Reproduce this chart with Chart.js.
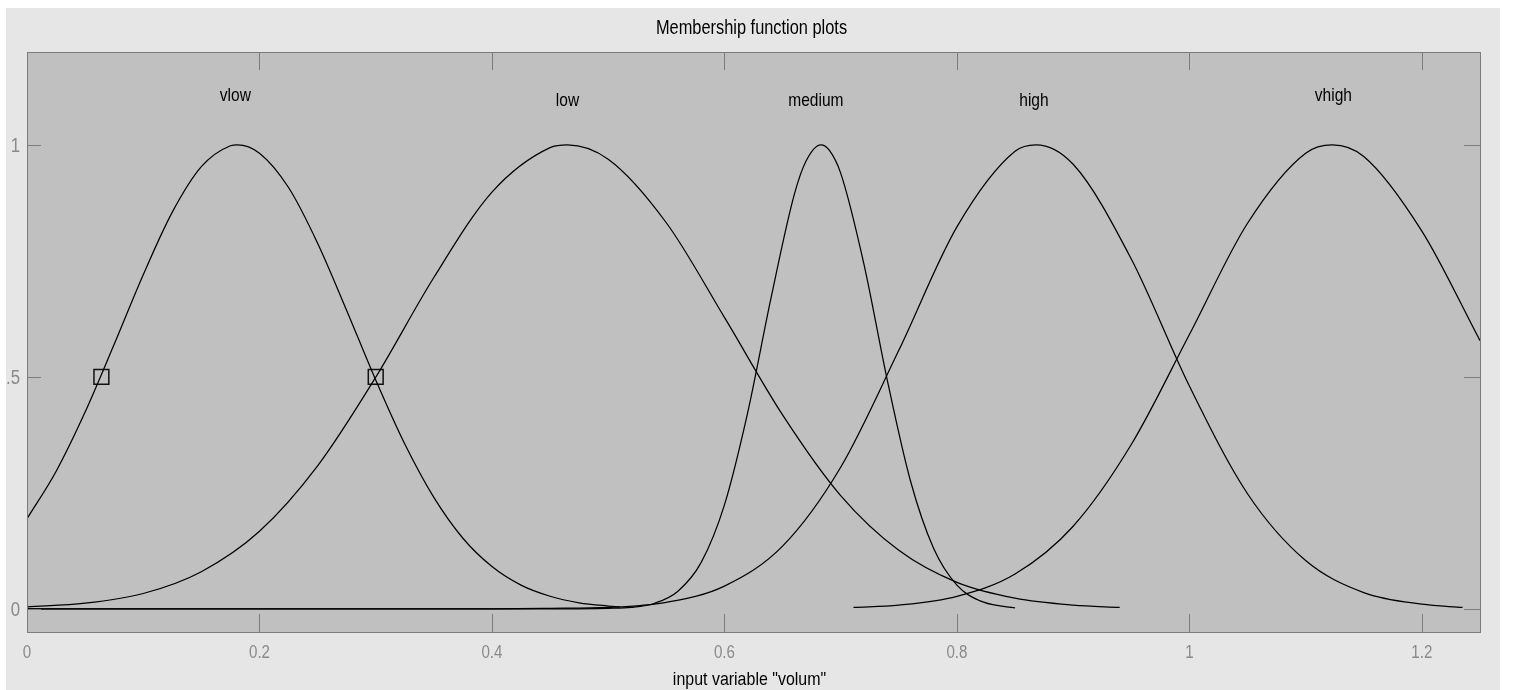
<!DOCTYPE html>
<html>
<head>
<meta charset="utf-8">
<title>Membership function plots</title>
<script src="https://cdn.jsdelivr.net/npm/chart.js@4.4.1/dist/chart.umd.min.js"></script>
<style>
  html, body { margin: 0; padding: 0; background: #ffffff; }
  #wrap { width: 1513px; height: 690px; }
</style>
</head>
<body>
<div id="wrap"><canvas id="mf"></canvas></div>
<script>
// Axis ticks
const xTicks = [0, 0.2, 0.4, 0.6, 0.8, 1, 1.2];
const xTickLabels = ['0', '0.2', '0.4', '0.6', '0.8', '1', '1.2'];
const yTicks = [0, 0.5, 1];
const yTickLabels = ['0', '.5', '1'];

// Membership function names and their peak positions
const mfNames = ['vlow', 'low', 'medium', 'high', 'vhigh'];
const mfPeaks = [0.181, 0.465, 0.683, 0.868, 1.123];

// Sampled membership degrees for each function
const vlowX = [0, 0.025, 0.05, 0.075, 0.1, 0.125, 0.15, 0.175, 0.181, 0.2, 0.225, 0.25, 0.275, 0.3, 0.325, 0.35, 0.375, 0.4, 0.425, 0.45, 0.475, 0.5, 0.51];
const vlowY = [0.194, 0.296, 0.424, 0.570, 0.720, 0.855, 0.953, 0.998, 1, 0.982, 0.908, 0.788, 0.643, 0.493, 0.355, 0.240, 0.152, 0.091, 0.051, 0.027, 0.013, 0.006, 0.004];

const lowX = [0, 0.05, 0.1, 0.15, 0.2, 0.25, 0.3, 0.35, 0.4, 0.45, 0.465, 0.5, 0.55, 0.6, 0.65, 0.7, 0.75, 0.8, 0.85, 0.9, 0.94];
const lowY = [0.004, 0.012, 0.033, 0.080, 0.167, 0.308, 0.499, 0.714, 0.898, 0.994, 1, 0.969, 0.832, 0.628, 0.418, 0.244, 0.126, 0.057, 0.023, 0.008, 0.003];

const mediumX = [0, 0.45, 0.5, 0.52, 0.54, 0.56, 0.58, 0.6, 0.62, 0.64, 0.66, 0.67, 0.683, 0.69, 0.7, 0.72, 0.74, 0.76, 0.78, 0.8, 0.82, 0.84, 0.85];
const mediumY = [0, 0, 0.001, 0.003, 0.012, 0.038, 0.100, 0.224, 0.423, 0.669, 0.892, 0.964, 1, 0.989, 0.939, 0.743, 0.494, 0.276, 0.130, 0.051, 0.017, 0.005, 0.002];

const highX = [0, 0.4, 0.45, 0.5, 0.55, 0.6, 0.65, 0.7, 0.75, 0.8, 0.85, 0.868, 0.9, 0.95, 1.0, 1.05, 1.1, 1.15, 1.2, 1.235];
const highY = [0, 0, 0.001, 0.003, 0.014, 0.049, 0.135, 0.305, 0.557, 0.823, 0.986, 1, 0.958, 0.754, 0.480, 0.248, 0.104, 0.035, 0.010, 0.003];

const vhighX = [0.711, 0.75, 0.8, 0.85, 0.9, 0.95, 1.0, 1.05, 1.1, 1.123, 1.15, 1.2, 1.25];
const vhighY = [0.003, 0.008, 0.027, 0.075, 0.178, 0.354, 0.591, 0.831, 0.982, 1, 0.975, 0.814, 0.578];

// Selection handles on the vlow curve
const handleX = [0.064, 0.3];
const handleY = [0.5, 0.5];

const labelLevel = 1.1;
const labelLift = [5, 0, 0, 0, 5];
const labelShift = [-2, 0, -5, -2, 1];

const FONT = "'Liberation Sans', Arial, sans-serif";
const SQUEEZE = 0.84;

const pairs = (xs, ys) => xs.map((x, i) => ({ x: x, y: ys[i] }));

const curveStyle = {
  borderColor: '#000000',
  borderWidth: 1.25,
  pointRadius: 0,
  fill: false,
  cubicInterpolationMode: 'monotone'
};

const series = [vlowX, lowX, mediumX, highX, vhighX];
const seriesY = [vlowY, lowY, mediumY, highY, vhighY];

const datasets = mfNames.map((name, i) => Object.assign({
  type: 'line',
  label: name,
  data: pairs(series[i], seriesY[i])
}, curveStyle));

datasets.push({
  type: 'scatter',
  label: 'handles',
  data: pairs(handleX, handleY),
  pointStyle: 'rect',
  pointRadius: 10.5,
  pointBorderWidth: 1.5,
  pointBorderColor: '#111',
  pointBackgroundColor: 'rgba(0,0,0,0)',
  showLine: false
});

// Condensed text: the face is narrowed horizontally around its anchor
function narrowText(ctx, text, x, y, size, color, align) {
  ctx.save();
  ctx.font = size + 'px ' + FONT;
  ctx.fillStyle = color;
  ctx.textAlign = align;
  ctx.textBaseline = 'alphabetic';
  ctx.translate(x, y);
  ctx.scale(SQUEEZE, 1);
  ctx.fillText(text, 0, 0);
  ctx.restore();
}

// Panel backgrounds, inward tick marks, frame, tick labels, titles and function names
const panelPlugin = {
  id: 'panel',
  beforeDraw(chart) {
    const { ctx, chartArea: a } = chart;
    ctx.save();
    ctx.fillStyle = '#ffffff';
    ctx.fillRect(0, 0, chart.width, chart.height);
    ctx.fillStyle = '#e6e6e6';
    ctx.fillRect(6, 8, 1494, chart.height - 8);
    ctx.fillStyle = '#c0c0c0';
    ctx.fillRect(a.left, a.top, a.right - a.left, a.bottom - a.top);
    ctx.restore();
  },
  afterDatasetsDraw(chart) {
    const { ctx, chartArea: a, scales } = chart;
    const xs = scales.x, ys = scales.y;
    ctx.save();
    ctx.strokeStyle = '#7c7c7c';
    ctx.lineWidth = 1;
    ctx.beginPath();
    xTicks.forEach(v => {
      const px = Math.round(xs.getPixelForValue(v)) + 0.5;
      ctx.moveTo(px, a.top); ctx.lineTo(px, a.top + 18);
      ctx.moveTo(px, a.bottom); ctx.lineTo(px, a.bottom - 18);
    });
    yTicks.forEach(v => {
      const py = Math.round(ys.getPixelForValue(v)) + 0.5;
      ctx.moveTo(a.left, py); ctx.lineTo(a.left + 14, py);
      ctx.moveTo(a.right, py); ctx.lineTo(a.right - 16, py);
    });
    ctx.stroke();
    ctx.strokeRect(Math.round(a.left) + 0.5, Math.round(a.top) + 0.5,
                   Math.round(a.right - a.left), Math.round(a.bottom - a.top));
    ctx.restore();

    // tick labels
    xTicks.forEach((v, i) => {
      narrowText(ctx, xTickLabels[i], xs.getPixelForValue(v), a.bottom + 26, 18, '#8a8a8a', 'center');
    });
    yTicks.forEach((v, i) => {
      narrowText(ctx, yTickLabels[i], a.left - 7, ys.getPixelForValue(v) + 7, 20, '#8a8a8a', 'right');
    });

    // titles
    const cx = (a.left + a.right) / 2;
    narrowText(ctx, 'Membership function plots', cx - 2, 34, 19.5, '#000', 'center');
    narrowText(ctx, 'input variable "volum"', cx - 4, 685, 19, '#000', 'center');

    // function names above each peak
    mfNames.forEach((name, i) => {
      narrowText(ctx, name, xs.getPixelForValue(mfPeaks[i]) + labelShift[i],
                 ys.getPixelForValue(labelLevel) + 8 - labelLift[i], 18.5, '#000', 'center');
    });
  }
};

new Chart(document.getElementById('mf'), {
  data: { datasets: datasets },
  options: {
    responsive: true,
    maintainAspectRatio: false,
    animation: false,
    events: [],
    layout: { padding: { left: 6, top: 52, right: 33, bottom: 0 } },
    plugins: {
      legend: { display: false },
      tooltip: { enabled: false },
      title: { display: false }
    },
    scales: {
      x: {
        type: 'linear',
        min: 0,
        max: 1.25,
        grid: { display: false, drawTicks: false },
        border: { display: false },
        afterBuildTicks: s => { s.ticks = xTicks.map(v => ({ value: v })); },
        afterFit: s => { s.height = 58; },
        ticks: { display: false }
      },
      y: {
        type: 'linear',
        min: -0.05,
        max: 1.2,
        grid: { display: false, drawTicks: false },
        border: { display: false },
        afterBuildTicks: s => { s.ticks = yTicks.map(v => ({ value: v })); },
        afterFit: s => { s.width = 21; },
        ticks: { display: false }
      }
    }
  },
  plugins: [panelPlugin]
});
</script>
</body>
</html>
